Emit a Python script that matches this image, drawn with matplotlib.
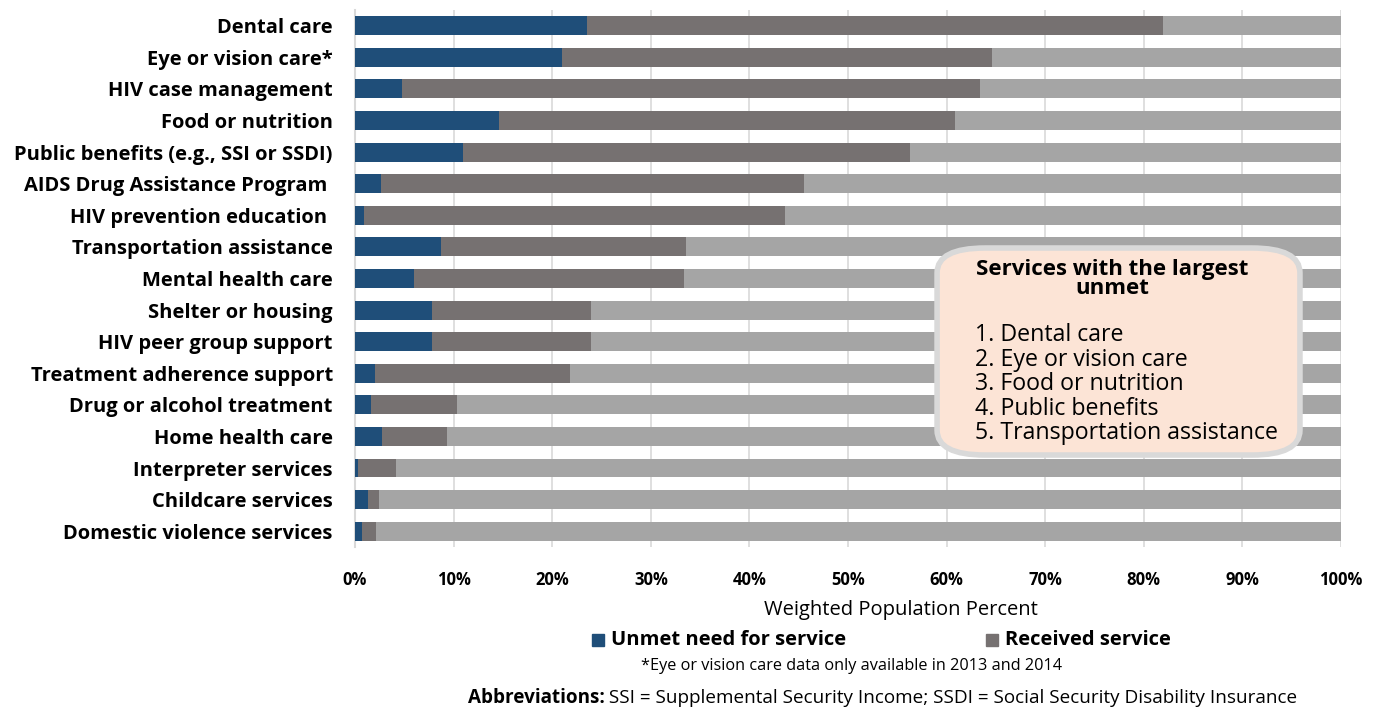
import numpy as np
import matplotlib.pyplot as plt
from matplotlib.patches import FancyBboxPatch, Rectangle

# categories, top to bottom
services = [
    "Dental care",
    "Eye or vision care*",
    "HIV case management",
    "Food or nutrition",
    "Public benefits (e.g., SSI or SSDI)",
    "AIDS Drug Assistance Program ",
    "HIV prevention education ",
    "Transportation assistance",
    "Mental health care",
    "Shelter or housing",
    "HIV peer group support",
    "Treatment adherence support",
    "Drug or alcohol treatment",
    "Home health care",
    "Interpreter services",
    "Childcare services",
    "Domestic violence services",
]
unmet = [23.5, 21.0, 4.8, 14.6, 10.9, 2.6, 0.9, 8.7, 6.0, 7.8, 7.8, 2.0, 1.6, 2.7, 0.3, 1.3, 0.7]
# cumulative end of the "received" segment
received_end = [81.9, 64.6, 63.4, 60.8, 56.3, 45.5, 43.6, 33.6, 33.4, 23.9, 23.9, 21.8, 10.3, 9.3, 4.2, 2.4, 2.1]
xticks = [0, 10, 20, 30, 40, 50, 60, 70, 80, 90, 100]
legend_labels = ["Unmet need for service", "Received service"]
top_unmet = ["Dental care", "Eye or vision care", "Food or nutrition",
             "Public benefits", "Transportation assistance"]

BLUE = "#1f4e79"
DARK = "#767171"
LIGHT = "#a5a5a5"

plt.rcParams['font.family'] = ['Open Sans', 'DejaVu Sans']

unmet = np.array(unmet)
received = np.array(received_end) - unmet
rest = 100 - np.array(received_end)
y = np.arange(len(services))

fig = plt.figure(figsize=(13.73, 7.09), dpi=100)
ax = fig.add_axes([0.2586, 0.2285, 0.7181, 0.7574])

ax.barh(y, unmet, height=0.6, color=BLUE, zorder=3)
ax.barh(y, received, left=unmet, height=0.6, color=DARK, zorder=3)
ax.barh(y, rest, left=unmet + received, height=0.6, color=LIGHT, zorder=3)

ax.set_xlim(0, 100)
ax.set_ylim(len(services) - 0.5, -0.5)
ax.set_yticks(y)
ax.set_yticklabels(services, fontsize=14.5, fontweight="bold")
ax.set_xticks(xticks)
ax.set_xticklabels([f"{t}%" for t in xticks], fontsize=12, fontweight="bold")
ax.tick_params(length=0)
ax.tick_params(axis="y", pad=16)
ax.tick_params(axis="x", pad=17)
ax.xaxis.grid(True, color="#d9d9d9", linewidth=1.2, zorder=0)
for s in ["top", "right", "bottom"]:
    ax.spines[s].set_visible(False)
ax.spines["left"].set_color("#d9d9d9")
ax.spines["left"].set_linewidth(1.5)

# axis title sits right of the plot centre in the original
fig.text(0.656, 0.139, "Weighted Population Percent", ha="center", va="center",
         fontsize=14.5)

# legend: square markers followed by bold labels
for xs, color, label in zip([592, 986], [BLUE, DARK], legend_labels):
    fig.patches.append(Rectangle((xs / 1373, 0.0888), 12 / 1373, 12 / 709,
                                 transform=fig.transFigure, color=color))
    fig.text((xs + 19) / 1373, 0.097, label, ha="left", va="center",
             fontsize=14.5, fontweight="bold")

fig.text(0.620, 0.0607, "*Eye or vision care data only available in 2013 and 2014",
         ha="center", va="center", fontsize=11.7)

# abbreviations line: bold lead-in followed by regular text, centred as a whole
r = fig.canvas.get_renderer()
t1 = fig.text(0, 0.016, "Abbreviations:", ha="left", va="center",
              fontsize=13.6, fontweight="bold")
t2 = fig.text(0, 0.016, " SSI = Supplemental Security Income; SSDI = Social Security Disability Insurance",
              ha="left", va="center", fontsize=13.6)
w1 = t1.get_window_extent(r).width / fig.bbox.width
w2 = t2.get_window_extent(r).width / fig.bbox.width
x0 = 0.6428 - (w1 + w2) / 2
t1.set_x(x0)
t2.set_x(x0 + w1)

# callout box
box = FancyBboxPatch((0.6825, 0.3582), 0.2643, 0.292,
                     boxstyle="round,pad=0,rounding_size=0.035",
                     transform=fig.transFigure, facecolor="#fce4d6",
                     edgecolor="#d9d9d9", linewidth=4, zorder=5)
fig.patches.append(box)
fig.text(0.810, 0.6065, "Services with the largest\nunmet", ha="center", va="center",
         fontsize=16, fontweight="bold", linespacing=0.92, zorder=6)
lines = "\n".join(f"{i + 1}. {s}" for i, s in enumerate(top_unmet))
fig.text(0.710, 0.458, lines, ha="left", va="center", fontsize=16.7,
         linespacing=1.03, zorder=6)

fig.savefig("out.png", dpi=100)
